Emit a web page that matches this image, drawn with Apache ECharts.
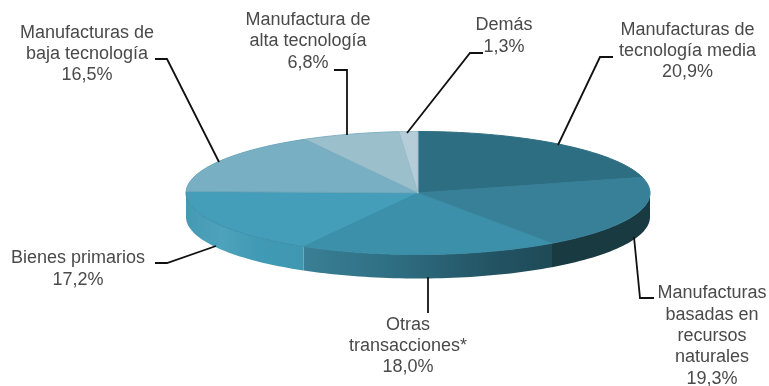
<!DOCTYPE html>
<html><head><meta charset="utf-8">
<style>html,body{margin:0;padding:0;background:#fff}#c{width:769px;height:386px}</style>
<script src="https://cdn.jsdelivr.net/npm/echarts@6/dist/echarts.min.js"></script>
</head><body><div id="c"></div>
<script>
const categories = ['Manufacturas de\ntecnología media','Manufacturas\nbasadas en\nrecursos\nnaturales','Otras\ntransacciones*','Bienes primarios','Manufacturas de\nbaja tecnología','Manufactura de\nalta tecnología','Demás'];
const values = [20.9,19.3,18.0,17.2,16.5,6.8,1.3];
const topColors = ['#2d6e82','#387f98','#3c90a9','#459eb9','#79afc2','#9cbfcc','#b5cdd8'];
const edgeColors = ['#2d6e82','#387f98','#3a8ba5','#3a8fa9','#6ba6bb','#7fb0c2','#9cbfcc'];
const sideColors = [
  null,
  [[0,'#1a3a42'],[1,'#1a3a42']],
  [[0,'#3a7f95'],[0.35,'#2f6f83'],[0.75,'#235464'],[1,'#1f4a57']],
  [[0,'#4699b3'],[0.3,'#4fa2bb'],[0.6,'#419ab5'],[1,'#3f97b1']],
  null,null,null
];
const labelBoxes = [
  {x:687.5,y:51,leader:[[613,57],[600,57],[558,145]]},
  {x:712,y:336,leader:[[654,298],[640,298],[634,237]]},
  {x:408,y:346,leader:[[428,313],[428,277]]},
  {x:78,y:269,leader:[[155,263],[167,263],[216,246]]},
  {x:87,y:54,leader:[[155,59],[167,59],[219,162]]},
  {x:308,y:41.5,leader:[[334,70],[347,70],[347,135]]},
  {x:504,y:36,leader:[[483,53],[470,53],[407,133]]}
];
const CX=418, CY=193, RX=232, RY=61.5, DEPTH=24;
const total = values.reduce((a,b)=>a+b,0);
const pt=(deg,dy)=>{const r=deg*Math.PI/180;return [CX+RX*Math.sin(r),CY+dy-RY*Math.cos(r)];};
function angles(i){let s=0;for(let k=0;k<i;k++)s+=values[k];return [s/total*360,(s+values[i])/total*360];}
function arc(a,b,dy){const n=Math.max(2,Math.ceil((b-a)/1.5));const p=[];for(let k=0;k<=n;k++)p.push(pt(a+(b-a)*k/n,dy));return p;}
const rows = values.map((v,i)=>[i,v]);
const chart = echarts.init(document.getElementById('c'),null,{renderer:'canvas'});
chart.setOption({
  animation:false,
  backgroundColor:'#fff',
  series:[
    {type:'custom',coordinateSystem:'none',silent:true,z:1,data:rows,
     renderItem:(p,api)=>{
       const i=api.value(0);const [a0,b0]=angles(i);
       const a=Math.max(a0,90),b=Math.min(b0,270);
       if(b<=a||!sideColors[i])return {type:'group',children:[]};
       const up=arc(a,b,0),dn=arc(a,b,DEPTH).reverse();
       return {type:'polygon',shape:{points:up.concat(dn)},
         style:{fill:new echarts.graphic.LinearGradient(0,0,1,0,sideColors[i].map(s=>({offset:s[0],color:s[1]}))),stroke:null}};
     }},
    {type:'custom',coordinateSystem:'none',silent:true,z:2,data:rows,
     renderItem:(p,api)=>{
       const i=api.value(0);const [a,b]=angles(i);
       return {type:'polygon',shape:{points:[[CX,CY]].concat(arc(a,b,0))},
         style:{fill:topColors[i],stroke:edgeColors[i],lineWidth:1,lineJoin:'round'}};
     }},
    {type:'custom',coordinateSystem:'none',silent:true,z:3,data:rows,
     renderItem:(p,api)=>{
       const i=api.value(0);const box=labelBoxes[i];
       const pct=api.value(1).toFixed(1).replace('.',',')+'%';
       return {type:'group',children:[
         {type:'polyline',shape:{points:box.leader},style:{fill:null,stroke:'#111',lineWidth:1.8}},
         {type:'text',style:{x:box.x,y:box.y,text:categories[i]+'\n'+pct,align:'center',verticalAlign:'middle',
           font:'18px "Liberation Sans", Arial, sans-serif',lineHeight:21.3,fill:'#4a4a4a'}}
       ]};
     }}
  ]
});
</script></body></html>
